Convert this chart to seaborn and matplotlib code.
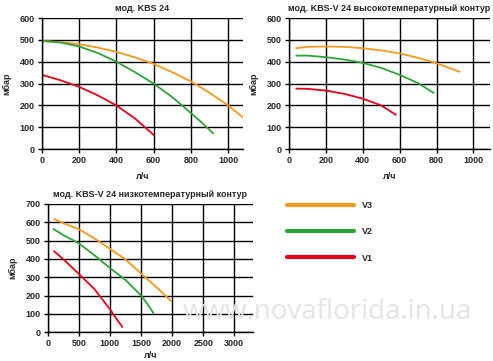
import numpy as np
import pandas as pd
import seaborn as sns
import matplotlib.pyplot as plt

# --- data (flow л/ч, head мбар) ---
kbs_v3_x = [0, 100, 200, 300, 400, 500, 600, 700, 800, 900, 1000, 1080]
kbs_v3_y = [495, 490, 480, 465, 445, 420, 390, 352, 310, 258, 200, 145]
kbs_v2_x = [0, 100, 200, 300, 400, 500, 600, 700, 800, 860, 920]
kbs_v2_y = [495, 488, 470, 440, 400, 352, 300, 238, 165, 120, 72]
kbs_v1_x = [0, 100, 200, 300, 400, 500, 600]
kbs_v1_y = [340, 315, 285, 246, 200, 140, 65]

ht_v3_x = [40, 100, 200, 300, 400, 500, 600, 700, 800, 925]
ht_v3_y = [462, 468, 470, 468, 462, 452, 438, 418, 393, 354]
ht_v2_x = [40, 100, 200, 300, 400, 500, 600, 700, 785]
ht_v2_y = [428, 428, 421, 410, 395, 372, 340, 302, 257]
ht_v1_x = [40, 100, 200, 300, 400, 500, 580]
ht_v1_y = [277, 276, 268, 253, 231, 200, 157]

lt_v3_x = [100, 250, 500, 750, 1000, 1250, 1500, 1750, 1980]
lt_v3_y = [618, 595, 562, 512, 455, 397, 320, 245, 170]
lt_v2_x = [90, 250, 500, 750, 1000, 1250, 1500, 1600, 1700]
lt_v2_y = [563, 530, 485, 420, 350, 285, 200, 155, 104]
lt_v1_x = [100, 250, 500, 750, 1000, 1100, 1200]
lt_v1_y = [442, 398, 318, 235, 125, 75, 28]

speeds = ['V3', 'V2', 'V1']
colors = {'V3': '#F39A1E', 'V2': '#2FA23A', 'V1': '#E2001A'}


def make_df(xs, ys):
    frames = []
    for s, x, y in zip(speeds, xs, ys):
        frames.append(pd.DataFrame({'flow': x, 'head': y, 'speed': s}))
    return pd.concat(frames, ignore_index=True)


panels = [
    ('мод. KBS 24', make_df([kbs_v3_x, kbs_v2_x, kbs_v1_x], [kbs_v3_y, kbs_v2_y, kbs_v1_y]),
     (0, 1080), np.arange(0, 1001, 200), (0, 600), np.arange(0, 601, 100),
     [0.085, 0.587, 0.408, 0.363], 5),
    ('мод. KBS-V 24 высокотемпературный контур', make_df([ht_v3_x, ht_v2_x, ht_v1_x], [ht_v3_y, ht_v2_y, ht_v1_y]),
     (0, 1090), np.arange(0, 1001, 200), (0, 600), np.arange(0, 601, 100),
     [0.586, 0.587, 0.408, 0.363], 5),
    ('мод. KBS-V 24 низкотемпературный контур', make_df([lt_v3_x, lt_v2_x, lt_v1_x], [lt_v3_y, lt_v2_y, lt_v1_y]),
     (0, 3300), np.arange(0, 3001, 500), (0, 700), np.arange(0, 701, 100),
     [0.097, 0.080, 0.416, 0.355], 2),
]

sns.set_style('white')
plt.rcParams['font.family'] = ['Liberation Sans', 'DejaVu Sans']
plt.rcParams['font.weight'] = 'bold'

fig = plt.figure(figsize=(4.93, 3.61), dpi=100)

# watermark
fig.text(0.665, 0.135, 'www.novaflorida.in.ua', fontsize=20, color='#e4e4e4',
         family='Open Sans', weight='normal', ha='center', va='center', zorder=0)

for title, df, xlim, xticks, ylim, yticks, pos, xpad in panels:
    ax = fig.add_axes(pos)
    ax.patch.set_alpha(0)
    sns.lineplot(data=df, x='flow', y='head', hue='speed', palette=colors,
                 sort=False, lw=1.3, legend=False, ax=ax)
    ax.set_xlim(*xlim)
    ax.set_ylim(*ylim)
    ax.set_xticks(xticks)
    ax.set_yticks(yticks)
    ax.grid(True, color='black', lw=1.0)
    ax.set_axisbelow(True)
    for side in ['top', 'right']:
        ax.spines[side].set_visible(False)
    for side in ['left', 'bottom']:
        ax.spines[side].set_color('black')
        ax.spines[side].set_linewidth(1.0)
    ax.tick_params(axis='both', which='both', direction='out', length=3, width=1,
                   color='black', labelsize=6.5, pad=2, bottom=True, left=True)
    for lab in ax.get_xticklabels() + ax.get_yticklabels():
        lab.set_fontweight('bold')
    ax.set_title(title, fontsize=6.5, weight='bold', pad=5)
    ax.set_xlabel('л/ч', fontsize=6.5, weight='bold', labelpad=xpad)
    ax.set_ylabel('мбар', fontsize=6.5, weight='bold', labelpad=6)

handles = [plt.Line2D([], [], color=colors[s], lw=3) for s in speeds]
fig.legend(handles, speeds, loc='upper left', bbox_to_anchor=(0.565, 0.465),
           frameon=False, handlelength=7.5, labelspacing=1.9, handletextpad=0.8,
           prop={'size': 6.5, 'weight': 'bold'})

fig.savefig('out.png', dpi=100)
